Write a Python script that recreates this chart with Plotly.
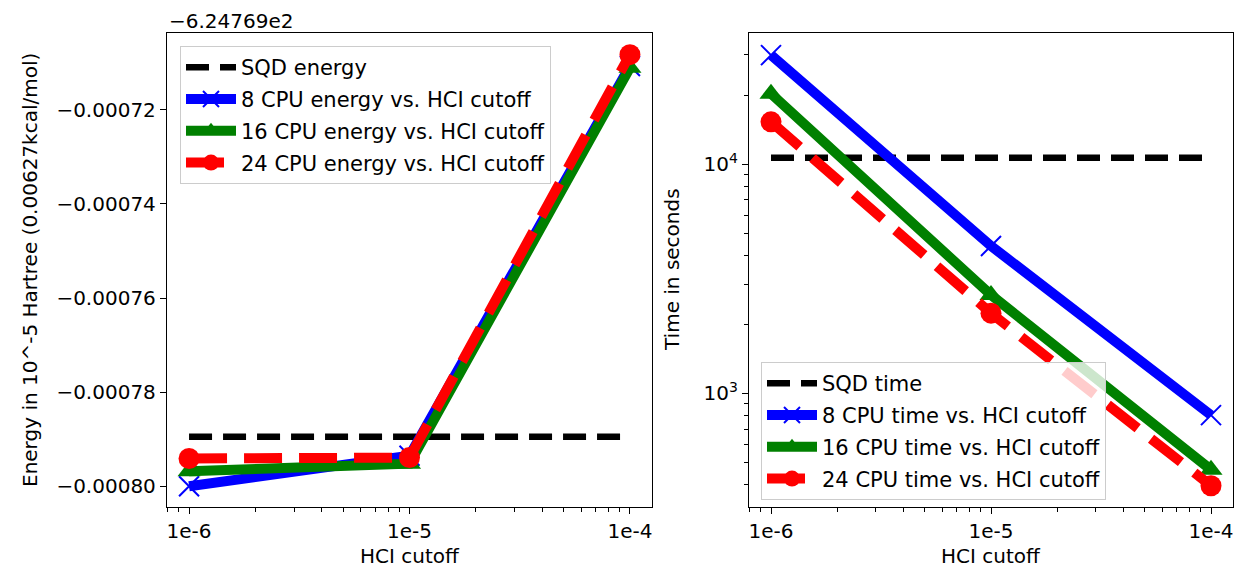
import plotly.graph_objects as go

# ---------------- data ----------------
cutoffs = [1e-6, 1e-5, 1e-4]
cutoff_labels = ["1e-6", "1e-5", "1e-4"]

# energies shown relative to the offset -6.24769e2 (Hartree)
energy_offset_text = "\u22126.24769e2"
sqd_energy = -0.0007895
energy_8cpu = [-0.000800, -0.0007935, -0.0007107]
energy_16cpu = [-0.0007968, -0.0007952, -0.0007111]
energy_24cpu = [-0.0007941, -0.0007939, -0.0007083]
energy_ticks = [-0.00080, -0.00078, -0.00076, -0.00074, -0.00072]
energy_tick_text = ["\u22120.00080", "\u22120.00078", "\u22120.00076", "\u22120.00074", "\u22120.00072"]

# wall times (seconds)
sqd_time = 10660
time_8cpu = [29900, 4400, 805]
time_16cpu = [20300, 2690, 465]
time_24cpu = [15300, 2240, 396]
time_ticks = [1e3, 1e4]
time_tick_text = ["10<sup>3</sup>", "10<sup>4</sup>"]

# ---------------- styling ----------------
W, H = 1238, 569
TOP, BOT = 33, 507
FONT = "DejaVu Sans"
FS = 21
TFS = 20

def py(p):  # pixel y -> paper y
    return (BOT - p) / (BOT - TOP)

minor_x = [k * 10.0 ** e for e in range(-7, -3) for k in range(2, 10)]
minor_y = [k * 10.0 ** e for e in range(2, 5) for k in range(2, 10)]

fig = go.Figure()

def add_set(xa, ya, leg, sqd_val, s8, s16, s24, sqd_name, what):
    fig.add_trace(go.Scatter(
        x=cutoffs, y=[sqd_val] * len(cutoffs), mode="lines", name=sqd_name,
        line=dict(color="black", width=6.5, dash="23px,11px"),
        xaxis=xa, yaxis=ya, legend=leg, legendgroup=leg + "a"))
    fig.add_trace(go.Scatter(
        x=cutoffs, y=s8, mode="lines+markers", name=f"8 CPU {what} vs. HCI cutoff",
        line=dict(color="blue", width=10),
        marker=dict(symbol="x-thin", size=20, color="blue", line=dict(color="blue", width=2)),
        xaxis=xa, yaxis=ya, legend=leg, legendgroup=leg + "b"))
    fig.add_trace(go.Scatter(
        x=cutoffs, y=s16, mode="lines+markers", name=f"16 CPU {what} vs. HCI cutoff",
        line=dict(color="green", width=10),
        marker=dict(symbol="triangle-up", size=20, color="green", line=dict(width=0)),
        xaxis=xa, yaxis=ya, legend=leg, legendgroup=leg + "c"))
    fig.add_trace(go.Scatter(
        x=cutoffs, y=s24, mode="lines+markers", name=f"24 CPU {what} vs. HCI cutoff",
        line=dict(color="red", width=10, dash="38px,17px"),
        marker=dict(symbol="circle", size=21, color="red", line=dict(width=0)),
        xaxis=xa, yaxis=ya, legend=leg, legendgroup=leg + "d"))

add_set("x", "y", "legend", sqd_energy, energy_8cpu, energy_16cpu, energy_24cpu, "SQD energy", "energy")
add_set("x2", "y2", "legend2", sqd_time, time_8cpu, time_16cpu, time_24cpu, "SQD time", "time")

axis_common = dict(showline=True, linecolor="black", linewidth=1.3, mirror=True,
                   ticks="outside", ticklen=6, tickwidth=1.3, tickcolor="black",
                   showgrid=False, zeroline=False,
                   tickfont=dict(family=FONT, size=TFS, color="black"))
minor_common = dict(ticks="outside", ticklen=3.5, tickwidth=1, tickcolor="black", showgrid=False)

legend_common = dict(xanchor="left", yanchor="top",
                     bgcolor="rgba(255,255,255,0.8)", bordercolor="#cccccc", borderwidth=1,
                     font=dict(family=FONT, size=FS, color="black"),
                     itemwidth=50, traceorder="grouped", tracegroupgap=1.5)

fig.update_layout(
    width=W, height=H,
    margin=dict(l=0, r=0, t=TOP, b=H - BOT, pad=0),
    plot_bgcolor="white", paper_bgcolor="white",
    font=dict(family=FONT, size=FS, color="black"),
    xaxis=dict(domain=[167 / W, 652 / W], type="log", range=[-6.1, -3.9],
               tickmode="array", tickvals=cutoffs, ticktext=cutoff_labels,
               minor=dict(tickvals=minor_x, **minor_common), anchor="y", **axis_common),
    yaxis=dict(range=[-0.0008044, -0.0007037], tickmode="array",
               tickvals=energy_ticks, ticktext=energy_tick_text, anchor="x", **axis_common),
    xaxis2=dict(domain=[749 / W, 1233 / W], type="log", range=[-6.1, -3.9],
                tickmode="array", tickvals=cutoffs, ticktext=cutoff_labels,
                minor=dict(tickvals=minor_x, **minor_common), anchor="y2", **axis_common),
    yaxis2=dict(type="log", range=[2.505, 4.572], tickmode="array",
                tickvals=time_ticks, ticktext=time_tick_text,
                minor=dict(tickvals=minor_y, **minor_common), anchor="x2", **axis_common),
    legend=dict(x=180 / W, y=py(46), **legend_common),
    legend2=dict(x=761 / W, y=py(362), **legend_common),
    showlegend=True,
)

ann = [
    dict(text=energy_offset_text, x=167 / W, y=py(21), xanchor="left", yanchor="middle"),
    dict(text="HCI cutoff", x=410 / W, y=py(556), xanchor="center", yanchor="middle"),
    dict(text="HCI cutoff", x=991 / W, y=py(556), xanchor="center", yanchor="middle"),
    dict(text="Energy in 10^-5 Hartree (0.00627kcal/mol)", x=30 / W, y=0.5,
         xanchor="center", yanchor="middle", textangle=-90),
    dict(text="Time in seconds", x=672 / W, y=0.5, xanchor="center", yanchor="middle",
         textangle=-90),
]
for a in ann:
    fig.add_annotation(xref="paper", yref="paper", showarrow=False,
                       font=dict(family=FONT, size=TFS, color="black"), **a)

fig.write_html("out.html", config={"displayModeBar": False},
               post_script="document.body.style.margin='0';document.body.style.padding='0';")
